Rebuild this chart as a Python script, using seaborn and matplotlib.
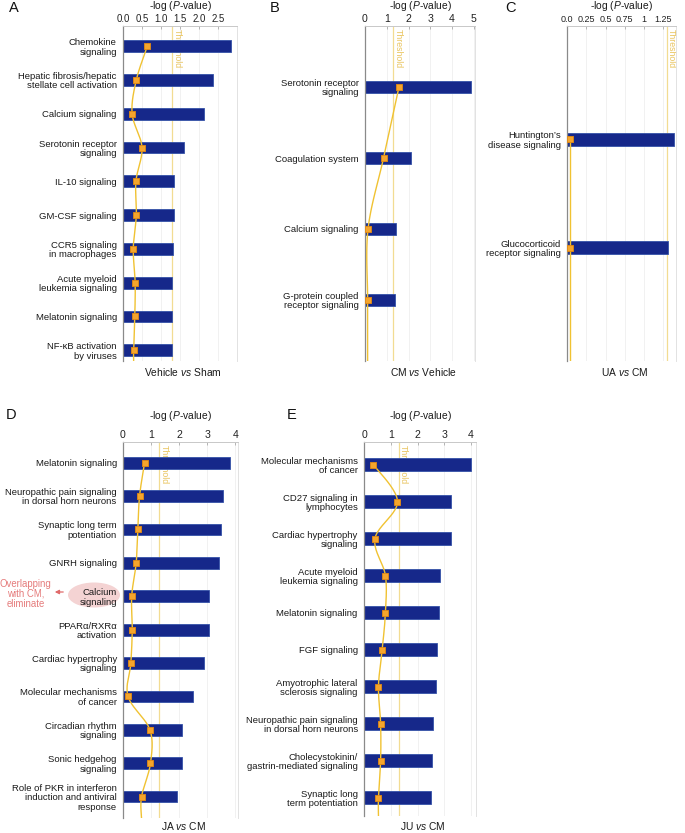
import numpy as np
import pandas as pd
import matplotlib
matplotlib.use("Agg")
import matplotlib.pyplot as plt
import seaborn as sns
from matplotlib.patches import Ellipse, FancyArrowPatch
import matplotlib.transforms as mtransforms

sns.set_theme(style="white")
plt.rcParams["font.family"] = ["Liberation Sans", "DejaVu Sans"]
plt.rcParams["mathtext.fontset"] = "custom"
plt.rcParams["mathtext.it"] = "Liberation Sans:italic"
plt.rcParams["mathtext.rm"] = "Liberation Sans"

# ---------------- data ----------------
A_cats = ["Chemokine\nsignaling", "Hepatic fibrosis/hepatic\nstellate cell activation",
          "Calcium signaling", "Serotonin receptor\nsignaling", "IL-10 signaling",
          "GM-CSF signaling", "CCR5 signaling\nin macrophages",
          "Acute myeloid\nleukemia signaling", "Melatonin signaling",
          "NF-κB activation\nby viruses"]
A_logp = [2.83, 2.37, 2.13, 1.60, 1.35, 1.33, 1.31, 1.28, 1.28, 1.28]
A_ratio = [0.64, 0.35, 0.24, 0.50, 0.34, 0.35, 0.27, 0.32, 0.31, 0.28]
A_ticks = [0.0, 0.5, 1.0, 1.5, 2.0, 2.5]
A_ticklabels = ["0.0", "0.5", "1.0", "1.5", "2.0", "2.5"]

B_cats = ["Serotonin receptor\nsignaling", "Coagulation system", "Calcium signaling",
          "G-protein coupled\nreceptor signaling"]
B_logp = [4.86, 2.10, 1.42, 1.38]
B_ratio = [1.56, 0.85, 0.14, 0.12]
B_ticks = [0, 1, 2, 3, 4, 5]
B_ticklabels = ["0", "1", "2", "3", "4", "5"]

C_cats = ["Huntington’s\ndisease signaling", "Glucocorticoid\nreceptor signaling"]
C_logp = [1.39, 1.31]
C_ratio = [0.04, 0.04]
C_ticks = [0.0, 0.25, 0.5, 0.75, 1.0, 1.25]
C_ticklabels = ["0.0", "0.25", "0.5", "0.75", "1", "1.25"]

D_cats = ["Melatonin signaling", "Neuropathic pain signaling\nin dorsal horn neurons",
          "Synaptic long term\npotentiation", "GNRH signaling", "Calcium\nsignaling",
          "PPARα/RXRα\nactivation", "Cardiac hypertrophy\nsignaling",
          "Molecular mechanisms\nof cancer", "Circadian rhythm\nsignaling",
          "Sonic hedgehog\nsignaling",
          "Role of PKR in interferon\ninduction and antiviral\nresponse"]
D_logp = [3.80, 3.55, 3.49, 3.42, 3.07, 3.06, 2.88, 2.49, 2.10, 2.10, 1.93]
D_ratio = [0.77, 0.59, 0.53, 0.47, 0.31, 0.33, 0.28, 0.18, 0.96, 0.98, 0.66]
D_ticks = [0, 1, 2, 3, 4]
D_ticklabels = ["0", "1", "2", "3", "4"]

E_cats = ["Molecular mechanisms\nof cancer", "CD27 signaling in\nlymphocytes",
          "Cardiac hypertrophy\nsignaling", "Acute myeloid\nleukemia signaling",
          "Melatonin signaling", "FGF signaling", "Amyotrophic lateral\nsclerosis signaling",
          "Neuropathic pain signaling\nin dorsal horn neurons",
          "Cholecystokinin/\ngastrin-mediated signaling", "Synaptic long\nterm potentiation"]
E_logp = [4.00, 3.25, 3.25, 2.83, 2.81, 2.73, 2.67, 2.57, 2.54, 2.49]
E_ratio = [0.35, 1.25, 0.41, 0.80, 0.80, 0.68, 0.54, 0.62, 0.62, 0.54]
E_ticks = [0, 1, 2, 3, 4]
E_ticklabels = ["0", "1", "2", "3", "4"]

THRESHOLD = 1.3
comparisons = ["Vehicle vs Sham", "CM vs Vehicle", "UA vs CM", "JA vs CM", "JU vs CM"]
letters = ["A", "B", "C", "D", "E"]

# ---------------- styling ----------------
W, H = 685, 833
BAR = "#16288a"
BAR_EDGE = "#3552a8"
SQ = "#f5a52c"
SQ_EDGE = "#e48a12"
LINE = "#f0c232"
THR = "#f2dc92"
THR_TXT = "#e9c45e"

fig = plt.figure(figsize=(W / 100, H / 100), dpi=100)


def rect(l, r, t, b):
    return [l / W, 1 - b / H, (r - l) / W, (b - t) / H]


def smooth(xs, ys, n=24):
    P = np.column_stack([xs, ys]).astype(float)
    P = np.vstack([P[0], P, P[-1]])
    out = []
    t = np.linspace(0, 1, n)[:, None]
    for i in range(1, len(P) - 2):
        p0, p1, p2, p3 = P[i - 1], P[i], P[i + 1], P[i + 2]
        seg = 0.5 * ((2 * p1) + (-p0 + p2) * t + (2 * p0 - 5 * p1 + 4 * p2 - p3) * t ** 2
                     + (-p0 + 3 * p1 - 3 * p2 + p3) * t ** 3)
        out.append(seg)
    return np.vstack(out)


panels = [
    dict(cats=A_cats, logp=A_logp, ratio=A_ratio, ticks=A_ticks, tl=A_ticklabels,
         xlim=3.0, box=(123, 237, 26, 361), ylim=(9.32, -0.6), bw=0.35, tfs=6.9),
    dict(cats=B_cats, logp=B_logp, ratio=B_ratio, ticks=B_ticks, tl=B_ticklabels,
         xlim=5.05, box=(365, 475, 26, 361), ylim=(3.86, -0.86), bw=0.18, tfs=7.6),
    dict(cats=C_cats, logp=C_logp, ratio=C_ratio, ticks=C_ticks, tl=C_ticklabels,
         xlim=1.415, box=(567, 676, 26, 361), ylim=(2.05, -1.05), bw=0.115, tfs=6.5),
    dict(cats=D_cats, logp=D_logp, ratio=D_ratio, ticks=D_ticks, tl=D_ticklabels,
         xlim=4.1, box=(123, 238, 442, 818), ylim=(10.64, -0.62), bw=0.35, tfs=7.6),
    dict(cats=E_cats, logp=E_logp, ratio=E_ratio, ticks=E_ticks, tl=E_ticklabels,
         xlim=4.18, box=(364, 476, 442, 816), ylim=(9.5, -0.61), bw=0.33, tfs=7.6),
]

axes = []
for i, p in enumerate(panels):
    l, r, t, b = p["box"]
    ax = fig.add_axes(rect(l, r, t, b))
    ax.set_zorder(1)
    axes.append(ax)
    df = pd.DataFrame({"pathway": p["cats"], "logp": p["logp"], "ratio": p["ratio"]})
    sns.barplot(data=df, x="logp", y="pathway", orient="h", color=BAR, saturation=1,
                width=p["bw"], edgecolor=BAR_EDGE, linewidth=0.6, ax=ax, zorder=2)
    pos = np.arange(len(df))
    ax.set_xlim(0, p["xlim"])
    ax.set_ylim(*p["ylim"])
    # threshold
    ax.axvline(THRESHOLD, color=THR, lw=0.9, zorder=1)
    trans = mtransforms.blended_transform_factory(ax.transData, ax.transAxes)
    ax.text(THRESHOLD, 0.992, "Threshold", rotation=-90, ha="left", va="top",
            fontsize=6.3, color=THR_TXT, transform=trans, zorder=1)
    # ratio curve
    ys = np.append(pos, p["ylim"][0])
    xs = np.append(df["ratio"].values, df["ratio"].values[-1])
    curve = smooth(xs, ys)
    ax.plot(curve[:, 0], curve[:, 1], color=LINE, lw=1.0, zorder=3)
    ax.scatter(df["ratio"], pos, marker="s", s=24, color=SQ, edgecolor=SQ_EDGE,
               linewidth=0.6, zorder=4)
    # axes styling
    ax.xaxis.tick_top()
    ax.set_xticks(p["ticks"])
    ax.set_xticklabels(p["tl"])
    ax.tick_params(axis="x", which="both", top=True, direction="in", length=2.5, width=0.6,
                   color="#aaaaaa", labelsize=p["tfs"], pad=1.5, labelcolor="#222222")
    ax.tick_params(axis="y", length=0, pad=4.5, labelsize=6.8, labelcolor="#1a1a1a")
    for lab in ax.get_yticklabels():
        lab.set_linespacing(1.05)
    ax.set_xlabel("")
    ax.set_ylabel("")
    ax.grid(axis="x", color="#efefef", lw=0.6, zorder=0)
    ax.grid(axis="y", visible=False)
    ax.set_axisbelow(True)
    ax.spines["left"].set_color("#8a8a8a")
    ax.spines["left"].set_linewidth(0.9)
    ax.spines["top"].set_color("#c8c8c8")
    ax.spines["top"].set_linewidth(0.7)
    ax.spines["right"].set_color("#e2e2e2")
    ax.spines["right"].set_linewidth(0.7)
    ax.spines["bottom"].set_visible(False)

    cx = (l + r) / 2
    title_y = 6 if i < 3 else 416
    fig.text(cx / W, 1 - title_y / H, r"-log ($\mathit{P}$-value)", ha="center", va="center",
             fontsize=7.4, color="#1a1a1a")
    bot_y = 372 if i < 3 else 826
    a, b2 = comparisons[i].split(" vs ")
    fig.text((cx + 3) / W, 1 - bot_y / H, a + r" $\mathit{vs}$ " + b2, ha="center", va="center",
             fontsize=7.4, color="#1a1a1a")

letter_pos = [(9, 8), (270, 8), (505, 8), (6, 415), (287, 415)]
for (x, y), L in zip(letter_pos, letters):
    fig.text(x / W, 1 - y / H, L, ha="left", va="center", fontsize=10.5,
             color="#111111")

# annotation in panel D (pink highlight around "Calcium signaling")
ell = Ellipse((94 / W, 1 - 595 / H), 52 / W, 25 / H, transform=fig.transFigure,
              facecolor="#f4d3d3", edgecolor="none", zorder=-1)
fig.patches.append(ell)
fig.text(25.5 / W, 1 - 594 / H, "Overlapping\nwith CM,\neliminate", ha="center", va="center",
         fontsize=6.9, color="#e57b7b", linespacing=1.05)
arr = FancyArrowPatch((66 / W, 1 - 592 / H), (52 / W, 1 - 592 / H), transform=fig.transFigure,
                      arrowstyle="-|>", mutation_scale=6, color="#e06a6a", lw=0.9)
fig.patches.append(arr)

fig.savefig("out.png", dpi=100)
